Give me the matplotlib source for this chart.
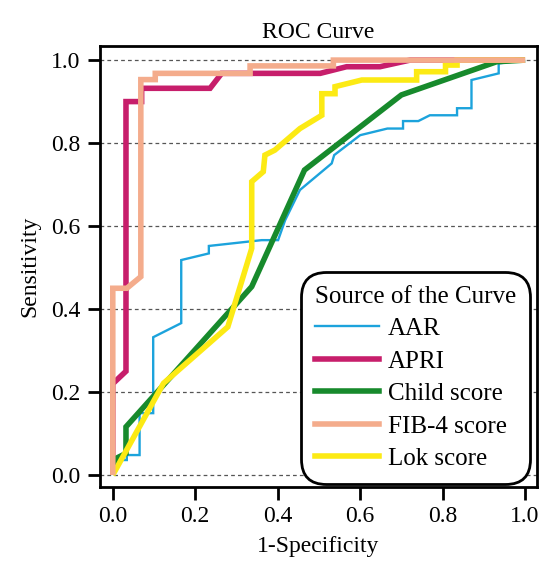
import matplotlib
matplotlib.use("Agg")
import matplotlib.pyplot as plt
from matplotlib.lines import Line2D

plt.rcParams['font.family'] = ['Liberation Serif', 'DejaVu Serif']

aar_x = [0, 0.008, 0.034, 0.034, 0.065, 0.065, 0.098, 0.098, 0.166, 0.166, 0.233, 0.233, 0.361, 0.401, 0.418, 0.454, 0.531, 0.537, 0.600, 0.666, 0.704, 0.704, 0.741, 0.769, 0.835, 0.835, 0.870, 0.870, 0.936, 0.936, 1.0]
aar_y = [0, 0.036, 0.036, 0.048, 0.048, 0.149, 0.149, 0.332, 0.366, 0.518, 0.534, 0.552, 0.566, 0.566, 0.614, 0.687, 0.751, 0.771, 0.819, 0.835, 0.835, 0.853, 0.853, 0.867, 0.867, 0.884, 0.884, 0.952, 0.968, 0.992, 1.0]

apri_x = [0, 0, 0.032, 0.032, 0.070, 0.070, 0.236, 0.264, 0.503, 0.567, 0.648, 0.721, 1.0]
apri_y = [0, 0.22, 0.25, 0.90, 0.90, 0.932, 0.932, 0.968, 0.968, 0.984, 0.984, 1.0, 1.0]

child_x = [0, 0.008, 0.032, 0.032, 0.337, 0.465, 0.700, 0.931, 1.0]
child_y = [0, 0.040, 0.052, 0.116, 0.454, 0.735, 0.916, 0.996, 1.0]

fib_x = [0, 0, 0.034, 0.068, 0.068, 0.103, 0.103, 0.333, 0.333, 0.535, 0.535, 1.0]
fib_y = [0, 0.45, 0.45, 0.478, 0.953, 0.953, 0.968, 0.968, 0.986, 0.986, 1.0, 1.0]

lok_x = [0, 0.123, 0.279, 0.337, 0.337, 0.365, 0.369, 0.393, 0.454, 0.507, 0.507, 0.539, 0.539, 0.604, 0.737, 0.737, 0.807, 0.807, 0.835, 0.835, 1.0]
lok_y = [0, 0.221, 0.357, 0.546, 0.707, 0.731, 0.771, 0.783, 0.835, 0.867, 0.919, 0.919, 0.936, 0.952, 0.952, 0.972, 0.972, 0.988, 0.988, 1.0, 1.0]

labels = ["AAR", "APRI", "Child score", "FIB-4 score", "Lok score"]
colors = ["#1ca3dc", "#c71e6b", "#178a2c", "#f4ac8c", "#fcea14"]
widths = [1.7, 4.0, 4.0, 4.0, 4.0]

yticks = [0.0, 0.2, 0.4, 0.6, 0.8, 1.0]
xticks = [0.0, 0.2, 0.4, 0.6, 0.8, 1.0]

FS = 17

fig = plt.figure(figsize=(5.4, 5.67), dpi=100)
ax = fig.add_axes([0.1852, 0.1411, 0.8093, 0.7778])

for yv in yticks:
    ax.axhline(yv, color="#555555", lw=0.9, ls=(0, (3, 2.5)), zorder=1)

series = {
    "AAR": (aar_x, aar_y),
    "APRI": (apri_x, apri_y),
    "Child score": (child_x, child_y),
    "FIB-4 score": (fib_x, fib_y),
    "Lok score": (lok_x, lok_y),
}
order = ["AAR", "APRI", "Child score", "Lok score", "FIB-4 score"]
for i, name in enumerate(order):
    k = labels.index(name)
    xs, ys = series[name]
    ax.plot(xs, ys, color=colors[k], lw=widths[k], zorder=2 + i,
            solid_joinstyle='miter', solid_capstyle='butt')

ax.set_xlim(-0.031, 1.029)
ax.set_ylim(-0.029, 1.034)
ax.set_xticks(xticks)
ax.set_yticks(yticks)
ax.set_xticklabels([f"{v:.1f}" for v in xticks])
ax.set_yticklabels([f"{v:.1f}" for v in yticks])
ax.tick_params(direction='out', length=9, width=2, labelsize=FS, pad=5)
for sp in ax.spines.values():
    sp.set_linewidth(2)
ax.set_xlabel("1-Specificity", fontsize=FS, labelpad=6)
ax.set_ylabel("Sensitivity", fontsize=FS, labelpad=8)
ax.set_title("ROC Curve", fontsize=FS, pad=6)

handles = [Line2D([], [], color=colors[k], lw=widths[k]) for k in range(len(labels))]
leg = ax.legend(handles, labels, title="Source of the Curve", loc='lower right',
                bbox_to_anchor=(0.984, 0.007), borderaxespad=0,
                fontsize=18, title_fontsize=18,
                handlelength=2.55, handletextpad=0.35, labelspacing=0.4, borderpad=0.55,
                fancybox=True, framealpha=1, edgecolor='black', alignment='left')
leg.get_frame().set_linewidth(2)
leg.get_frame().set_boxstyle('round,pad=0,rounding_size=1.0')
leg.set_zorder(20)

fig.savefig("out.png", dpi=100)
